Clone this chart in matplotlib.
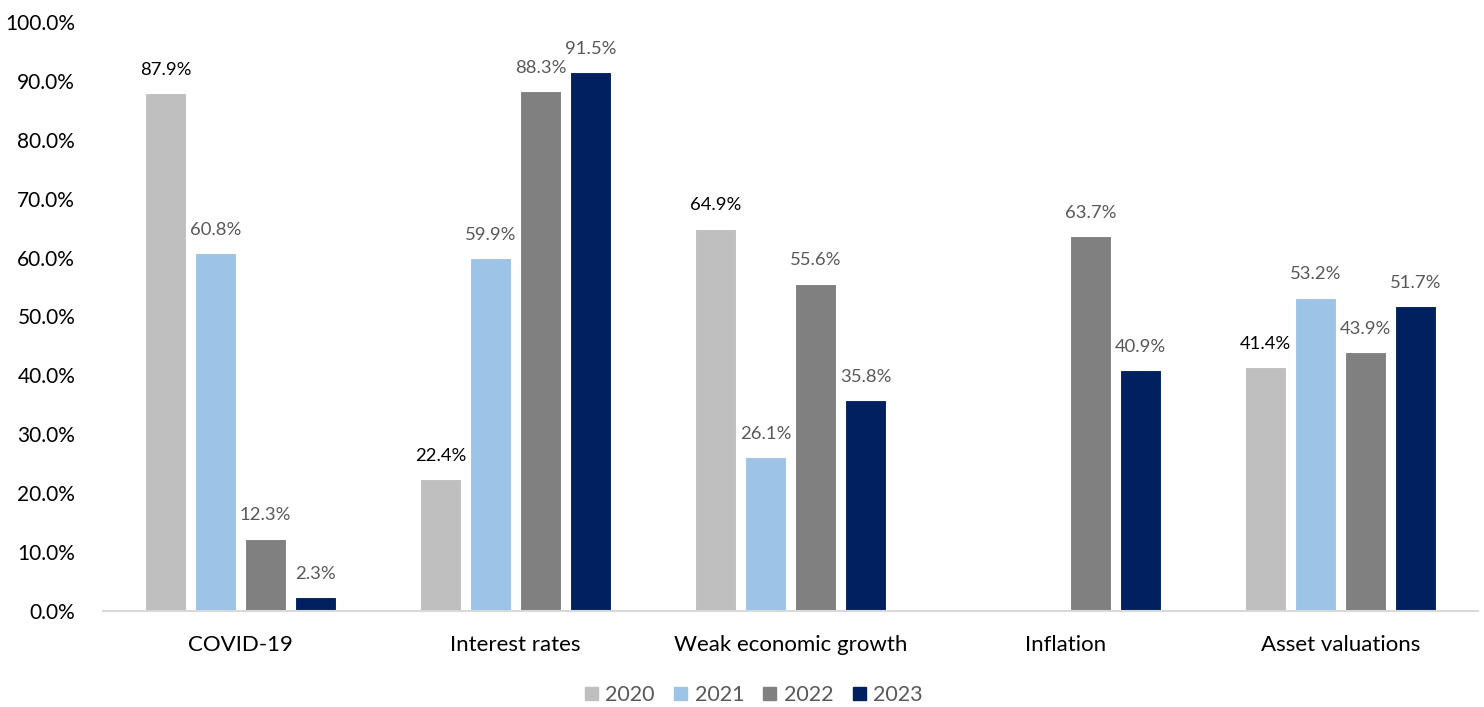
import matplotlib.pyplot as plt
import numpy as np

plt.rcParams['font.family'] = ['Lato', 'DejaVu Sans']

categories = ['COVID-19', 'Interest rates', 'Weak economic growth', 'Inflation', 'Asset valuations']
years = ['2020', '2021', '2022', '2023']
values = {
    '2020': [87.9, 22.4, 64.9, None, 41.4],
    '2021': [60.8, 59.9, 26.1, None, 53.2],
    '2022': [12.3, 88.3, 55.6, 63.7, 43.9],
    '2023': [2.3, 91.5, 35.8, 40.9, 51.7],
}
colors = ['#BFBFBF', '#9DC3E6', '#808080', '#002060']
label_colors = ['#000000', '#595959', '#595959', '#595959']

fig = plt.figure(figsize=(14.84, 7.07), dpi=100)
ax = fig.add_axes([103 / 1484, 96 / 707, 1375 / 1484, 589 / 707])

x = np.arange(len(categories))
step = 0.182
width = 0.15
for i, yr in enumerate(years):
    offs = (i - 1.5) * step
    for j, v in enumerate(values[yr]):
        if v is None:
            continue
        ax.bar(x[j] + offs, v, width, color=colors[i], edgecolor='white', linewidth=0.8, zorder=2)
        ax.annotate(f'{v:.1f}%', (x[j] + offs, v), xytext=(0, 11), textcoords='offset points',
                    ha='center', va='bottom', fontsize=13.3, color=label_colors[i])

ax.set_xlim(-0.5, len(categories) - 0.5)
ax.set_ylim(0, 100)
ax.set_yticks(np.arange(0, 101, 10))
ax.set_yticklabels([f'{t:.1f}%' for t in np.arange(0, 101, 10)], fontsize=15)
ax.set_xticks(x)
ax.set_xticklabels(categories, fontsize=16)
ax.tick_params(axis='y', length=0, pad=20)
ax.tick_params(axis='x', length=0, pad=17)
for s in ['top', 'right', 'left']:
    ax.spines[s].set_visible(False)
ax.spines['bottom'].set_color('#D9D9D9')
ax.spines['bottom'].set_linewidth(1.5)

handles = [plt.Rectangle((0, 0), 1, 1, color=c) for c in colors]
fig.legend(handles, years, loc='center', bbox_to_anchor=(0.508, 12 / 707), ncol=4, frameon=False,
           fontsize=15.5, handlelength=0.6, handleheight=0.6, handletextpad=0.35, columnspacing=0.9,
           labelcolor='#595959')

fig.savefig('out.png', dpi=100)
